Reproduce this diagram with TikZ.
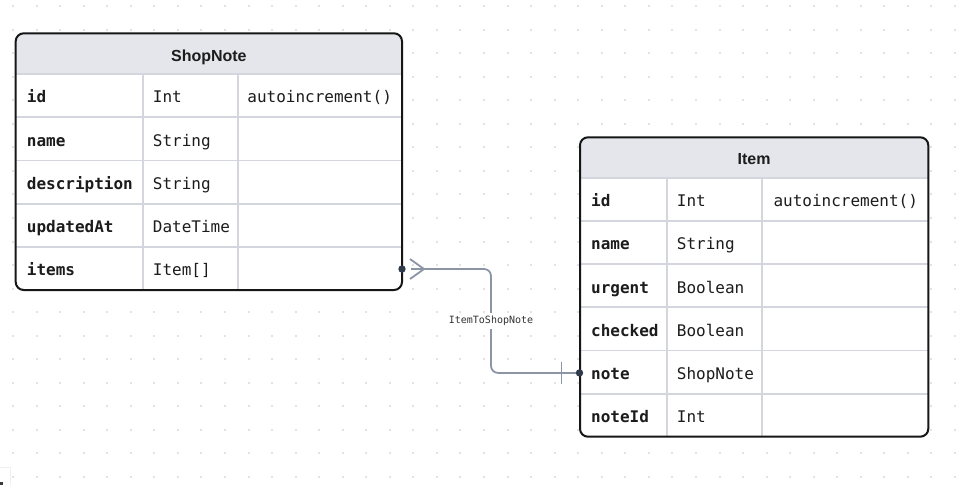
\documentclass[tikz,border=0pt]{standalone}
\usepackage{fontspec}
\setmainfont{Liberation Sans}
\newfontfamily\monof{DejaVu Sans Mono}
\definecolor{dotc}{HTML}{E2E2E2}
\definecolor{hdrfill}{HTML}{E4E6EB}
\definecolor{gridc}{HTML}{D3D7DD}
\definecolor{framec}{HTML}{161616}
\definecolor{connc}{HTML}{8B95A5}
\definecolor{portc}{HTML}{2F3A4B}
\definecolor{txtc}{HTML}{1C1C1C}
\tikzset{
  tframe/.style={draw=framec, line width=2pt, rounded corners=8pt},
  gridline/.style={draw=gridc, line width=1.8pt},
  hdrtext/.style={font=\fontsize{16}{18}\selectfont\bfseries, text=txtc, inner sep=0pt, anchor=base},
  fname/.style={font=\monof\fontsize{16}{18}\selectfont\bfseries, text=txtc, inner sep=0pt, anchor=base west},
  ftype/.style={font=\monof\fontsize{16}{18}\selectfont, text=txtc, inner sep=0pt, anchor=base west},
  conn/.style={draw=connc, line width=1.8pt},
  rellabel/.style={font=\monof\fontsize{10}{12}\selectfont, text=txtc!90, fill=white, inner xsep=2pt, inner ysep=3pt},
  portdot/.style={fill=portc}
}
\begin{document}
\begin{tikzpicture}[x=1pt,y=-1pt]
\useasboundingbox (0,0) rectangle (956,485);
\fill[white] (0,0) rectangle (956,485);
% dot grid
\foreach \i in {0,...,40}{
  \foreach \j in {0,...,20}{
    \fill[dotc] ({13+23.55*\i-1},{6+23.55*\j-1}) rectangle +(2,2);
  }
}
% corner artifact
\draw[gray!12, line width=1pt] (0,467.5) -- (10.5,467.5) -- (10.5,485);
\fill[framec!85] (0,482) rectangle (3,485);

% ---------- ShopNote table ----------
\def\xa{15.7}\def\xb{402}\def\ca{142.7}\def\cb{237.7}
\def\ya{33.3}\def\yh{74}\def\yb{290}\def\rh{43.2}
\fill[white, rounded corners=8pt] (\xa,\ya) rectangle (\xb,\yb);
\begin{scope}
  \clip[rounded corners=8pt] (\xa,\ya) rectangle (\xb,\yb);
  \fill[hdrfill] (\xa,\ya) rectangle (\xb,\yh);
\end{scope}
\foreach \k in {0,...,4}{
  \draw[gridline] (\xa,{\yh+\rh*\k}) -- (\xb,{\yh+\rh*\k});
}
\draw[gridline] (\ca,\yh) -- (\ca,\yb);
\draw[gridline] (\cb,\yh) -- (\cb,\yb);
\draw[tframe] (\xa,\ya) rectangle (\xb,\yb);
\node[hdrtext] (sn-title) at ({(\xa+\xb)/2},{\ya+27.7}) {ShopNote};
\foreach \nm/\ty/\at [count=\k from 0] in {id/Int/autoincrement(), name/String/, description/String/, updatedAt/DateTime/, items/Item[]/}{
  \node[fname] (sn-n\k) at ({\xa+11},{\yh+\rh*\k+28.8}) {\nm};
  \node[ftype] (sn-t\k) at ({\ca+10},{\yh+\rh*\k+28.8}) {\ty};
  \node[ftype] (sn-a\k) at ({\cb+9.5},{\yh+\rh*\k+28.8}) {\at};
}
\coordinate (snport) at (\xb,269);

% ---------- Item table ----------
\def\xa{580}\def\xb{928.3}\def\ca{666.7}\def\cb{762.3}
\def\ya{137.3}\def\yh{178}\def\yb{436.7}\def\rh{43.12}
\fill[white, rounded corners=8pt] (\xa,\ya) rectangle (\xb,\yb);
\begin{scope}
  \clip[rounded corners=8pt] (\xa,\ya) rectangle (\xb,\yb);
  \fill[hdrfill] (\xa,\ya) rectangle (\xb,\yh);
\end{scope}
\foreach \k in {0,...,5}{
  \draw[gridline] (\xa,{\yh+\rh*\k}) -- (\xb,{\yh+\rh*\k});
}
\draw[gridline] (\ca,\yh) -- (\ca,\yb);
\draw[gridline] (\cb,\yh) -- (\cb,\yb);
\draw[tframe] (\xa,\ya) rectangle (\xb,\yb);
\node[hdrtext] (it-title) at ({(\xa+\xb)/2},{\ya+27}) {Item};
\foreach \nm/\ty/\at [count=\k from 0] in {id/Int/autoincrement(), name/String/, urgent/Boolean/, checked/Boolean/, note/ShopNote/, noteId/Int/}{
  \node[fname] (it-n\k) at ({\xa+11},{\yh+\rh*\k+28.8}) {\nm};
  \node[ftype] (it-t\k) at ({\ca+10},{\yh+\rh*\k+28.8}) {\ty};
  \node[ftype] (it-a\k) at ({\cb+11},{\yh+\rh*\k+28.8}) {\at};
}
\coordinate (itport) at (579.5,372.9);

% ---------- relation ----------
\coordinate (bendx) at (491,320.7);
\draw[conn, rounded corners=7pt] ([xshift=9pt]snport) -| (bendx) |- (itport);
\draw[conn] ([shift={(8,-10)}]snport) -- ([xshift=22pt]snport) -- ([shift={(8,10)}]snport);
\draw[conn] ([shift={(-18,-11)}]itport) -- ([shift={(-18,11)}]itport);
\node[rellabel] (rel) at (bendx) {ItemToShopNote};
\fill[portdot] (snport) circle (3.7pt);
\fill[portdot] (itport) circle (3.7pt);
\end{tikzpicture}
\end{document}
